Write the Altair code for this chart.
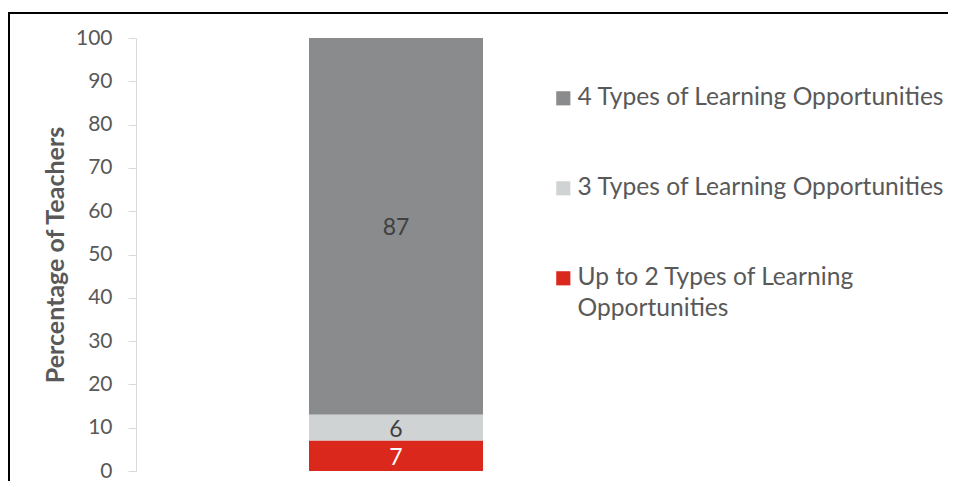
import altair as alt
import pandas as pd

categories = [
    "4 Types of Learning Opportunities",
    "3 Types of Learning Opportunities",
    "Up to 2 Types of Learning Opportunities",
]
values = [87, 6, 7]
stack_order = [3, 2, 1]
colors = ["#898b8c", "#d0d3d4", "#da291c"]
y_ticks = [0, 10, 20, 30, 40, 50, 60, 70, 80, 90, 100]

FONT = "Lato"

df = pd.DataFrame({
    "group": ["All"] * len(categories),
    "category": categories,
    "value": values,
    "order": stack_order,
})

base = alt.Chart(df).transform_stack(
    stack="value",
    groupby=["group"],
    as_=["y0", "y1"],
    sort=[alt.SortField("order", order="ascending")],
).transform_calculate(mid="(datum.y0 + datum.y1) / 2")

x_enc = alt.X("group:N", axis=None)

bars = base.mark_bar(size=174).encode(
    x=x_enc,
    y=alt.Y(
        "y0:Q",
        scale=alt.Scale(domain=[0, 100], nice=False),
        axis=alt.Axis(
            title="Percentage of Teachers",
            values=y_ticks,
            grid=False,
            labelFont=FONT,
            labelFontSize=21,
            labelColor="#595959",
            labelPadding=16,
            tickSize=8,
            tickColor="#d9d9d9",
            domainColor="#d9d9d9",
            titleFont=FONT,
            titleFontSize=25,
            titleFontWeight="bold",
            titleColor="#595959",
            titlePadding=7,
        ),
    ),
    y2="y1:Q",
    color=alt.Color(
        "category:N",
        scale=alt.Scale(domain=categories, range=colors),
        legend=alt.Legend(
            title=None,
            orient="none",
            legendX=415,
            legendY=48,
            symbolType="square",
            symbolSize=200,
            symbolStrokeWidth=0,
            labelFont=FONT,
            labelFontSize=24.6,
            labelColor="#595959",
            labelOffset=2,
            labelLimit=600,
            rowPadding=65,
            padding=0,
            labelExpr="datum.label == 'Up to 2 Types of Learning Opportunities' ? ['Up to 2 Types of Learning', 'Opportunities'] : datum.label",
        ),
    ),
)

labels = base.mark_text(font=FONT, fontSize=23, dy=2).encode(
    x=x_enc,
    y=alt.Y("mid:Q"),
    text=alt.Text("value:Q"),
    color=alt.condition(
        alt.datum.category == "Up to 2 Types of Learning Opportunities",
        alt.value("white"),
        alt.value("#404040"),
    ),
)

frame_df = pd.DataFrame({"k": [0]})
frame_top = alt.Chart(frame_df).mark_rule(color="black", strokeWidth=2).encode(
    x=alt.value(-128), x2=alt.value(815), y=alt.value(-25)
)
frame_left = alt.Chart(frame_df).mark_rule(color="black", strokeWidth=2).encode(
    x=alt.value(-127), y=alt.value(-26), y2=alt.value(460)
)

chart = alt.layer(bars, labels, frame_top, frame_left).properties(
    width=520,
    height=433,
    padding={"left": 128, "top": 30, "right": 292, "bottom": 10},
    autosize=alt.AutoSizeParams(type="none"),
    background="white",
).configure(
    style={"guide-label": {"lineHeight": 31}}
).configure_view(stroke=None)

chart.save("out.html", embed_options={"renderer": "svg", "actions": False})
